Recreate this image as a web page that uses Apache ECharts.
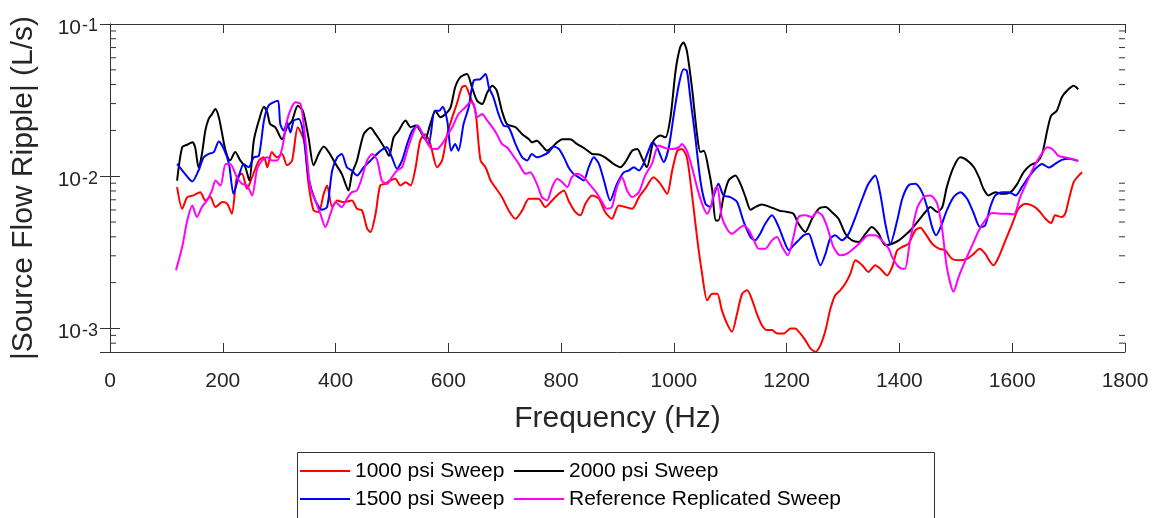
<!DOCTYPE html>
<html>
<head>
    <meta charset="utf-8"/>
    <title>Source Flow Ripple</title>
    <script src="https://cdn.jsdelivr.net/npm/echarts@6.0.0/dist/echarts.min.js"></script>
</head>
<body style="margin:0;background:#fff;">
<div id="main" style="width: 1167px;height:518px;"></div>
<script type="text/javascript">
    // [frequency Hz, |source flow ripple| L/s]
    var sweep1000 = [
        [119, 0.00848], [128, 0.00611], [137, 0.00729], [148, 0.00748], [160, 0.00786], [169, 0.00693], [178, 0.00729], [187, 0.00627],
        [199, 0.00676], [208, 0.00659], [216, 0.00567], [225, 0.00985], [234, 0.01036], [243, 0.00827], [252, 0.00985], [264, 0.0127],
        [273, 0.0133], [279, 0.01146], [287, 0.0144], [296, 0.0133], [305, 0.0140], [314, 0.0118], [323, 0.0127], [333, 0.0210],
        [344, 0.0171], [352, 0.00891], [361, 0.00596], [370, 0.00582], [379, 0.00766], [385, 0.00869], [394, 0.00627], [403, 0.00693],
        [414, 0.00676], [429, 0.00693], [438, 0.00611], [447, 0.00596], [456, 0.00452], [462, 0.00430], [471, 0.00567], [479, 0.00869],
        [488, 0.00891], [497, 0.00937], [506, 0.00961], [515, 0.00869], [524, 0.00914], [533, 0.00869], [542, 0.01146], [550, 0.0171],
        [559, 0.0189], [568, 0.0163], [580, 0.01146], [589, 0.0127], [598, 0.0189], [607, 0.0244], [615, 0.0298], [624, 0.0383],
        [630, 0.0393], [639, 0.0330], [648, 0.0269], [657, 0.0127], [666, 0.01146], [675, 0.00937], [683, 0.00848], [695, 0.00729],
        [707, 0.00596], [719, 0.00525], [731, 0.00596], [743, 0.00711], [760, 0.00711], [772, 0.00627], [784, 0.00693], [796, 0.00766],
        [805, 0.00806], [813, 0.00693], [825, 0.00582], [834, 0.00553], [843, 0.00659], [855, 0.00748], [867, 0.00711], [878, 0.00582],
        [890, 0.00525], [902, 0.00643], [914, 0.00627], [926, 0.00611], [938, 0.00729], [949, 0.00827], [964, 0.00985], [976, 0.00891],
        [988, 0.00766], [997, 0.0109], [1006, 0.0147], [1014, 0.0151], [1023, 0.0133], [1032, 0.00766], [1041, 0.00398], [1050, 0.00229],
        [1059, 0.00153], [1068, 0.00169], [1077, 0.00169], [1085, 0.00132], [1094, 0.00108], [1103, 0.000951], [1112, 0.00125], [1121, 0.00169],
        [1130, 0.00178], [1139, 0.00153], [1147, 0.00125], [1156, 0.00105], [1165, 0.000975], [1174, 0.000975], [1183, 0.000927], [1195, 0.000927],
        [1207, 0.00100], [1215, 0.00100], [1224, 0.000927], [1233, 0.000838], [1242, 0.000739], [1251, 0.000703], [1260, 0.000777], [1269, 0.000975],
        [1277, 0.00132], [1286, 0.00165], [1295, 0.00178], [1304, 0.00197], [1313, 0.00229], [1322, 0.00280], [1334, 0.00260], [1345, 0.00235],
        [1357, 0.00260], [1366, 0.00247], [1378, 0.00223], [1387, 0.00253], [1396, 0.00326], [1405, 0.00343], [1416, 0.00360], [1428, 0.00441],
        [1437, 0.00459], [1446, 0.00419], [1458, 0.00360], [1470, 0.00334], [1481, 0.00326], [1493, 0.00287], [1505, 0.00280], [1520, 0.00287],
        [1532, 0.00310], [1542, 0.00334], [1552, 0.00310], [1561, 0.00273], [1567, 0.00260], [1576, 0.00295], [1588, 0.00379], [1600, 0.00487],
        [1611, 0.00611], [1623, 0.00659], [1635, 0.00643], [1647, 0.00596], [1659, 0.00525], [1669, 0.00492], [1676, 0.00553], [1688, 0.00539],
        [1694, 0.00567], [1700, 0.00693], [1709, 0.00914], [1718, 0.0101], [1724, 0.0106]
    ];

    var sweep2000 = [
        [119, 0.00937], [128, 0.0155], [137, 0.0161], [146, 0.0167], [151, 0.0155], [157, 0.01146], [163, 0.0140], [169, 0.0199],
        [175, 0.0238], [181, 0.0256], [187, 0.0276], [193, 0.0244], [199, 0.0189], [205, 0.0147], [213, 0.0127], [222, 0.0144],
        [231, 0.0127], [240, 0.01146], [247, 0.00937], [255, 0.0171], [264, 0.0232], [273, 0.0286], [279, 0.0262], [284, 0.0220],
        [293, 0.0210], [305, 0.0175], [314, 0.0210], [323, 0.0232], [333, 0.0290], [342, 0.0269], [352, 0.0180], [361, 0.0118],
        [370, 0.0140], [379, 0.0157], [388, 0.0144], [400, 0.01205], [411, 0.01036], [423, 0.00806], [429, 0.01036], [438, 0.0127],
        [450, 0.0189], [462, 0.0208], [471, 0.0189], [479, 0.0171], [488, 0.0151], [495, 0.0136], [503, 0.0180], [512, 0.0199],
        [524, 0.0232], [533, 0.0210], [542, 0.0215], [550, 0.0199], [559, 0.0175], [568, 0.0220], [577, 0.0269], [586, 0.0244],
        [595, 0.0256], [604, 0.0283], [612, 0.0383], [621, 0.0446], [633, 0.0469], [642, 0.0383], [651, 0.0313], [660, 0.0298],
        [669, 0.0355], [678, 0.0393], [686, 0.0364], [695, 0.0269], [704, 0.0220], [719, 0.0210], [731, 0.0189], [743, 0.0175],
        [748, 0.0167], [757, 0.0171], [766, 0.0159], [775, 0.0147], [784, 0.0155], [793, 0.0167], [802, 0.0175], [816, 0.0175],
        [828, 0.0163], [843, 0.0151], [855, 0.0140], [867, 0.0139], [878, 0.0133], [893, 0.01205], [905, 0.01146], [914, 0.0124],
        [926, 0.0147], [935, 0.0151], [943, 0.0133], [952, 0.01146], [964, 0.0171], [976, 0.0185], [985, 0.0180], [994, 0.0244],
        [1003, 0.0493], [1011, 0.0701], [1017, 0.0756], [1023, 0.0666], [1032, 0.0383], [1041, 0.0189], [1047, 0.0144], [1053, 0.0147],
        [1062, 0.0109], [1068, 0.00806], [1074, 0.00512], [1079, 0.00512], [1088, 0.00729], [1097, 0.00937], [1109, 0.0101], [1118, 0.00891],
        [1127, 0.00729], [1136, 0.00602], [1144, 0.00627], [1156, 0.00653], [1171, 0.00627], [1186, 0.00596], [1201, 0.00582], [1212, 0.00567],
        [1221, 0.00487], [1233, 0.00430], [1245, 0.00525], [1257, 0.00611], [1269, 0.00627], [1280, 0.00582], [1292, 0.00525], [1304, 0.00419],
        [1316, 0.00379], [1328, 0.00370], [1340, 0.00419], [1351, 0.00463], [1363, 0.00419], [1375, 0.00352], [1387, 0.00360], [1399, 0.00379],
        [1410, 0.00409], [1422, 0.00452], [1434, 0.00512], [1446, 0.00582], [1455, 0.00627], [1467, 0.00582], [1476, 0.00627], [1484, 0.00848],
        [1496, 0.01146], [1508, 0.0133], [1520, 0.0127], [1532, 0.01146], [1541, 0.00985], [1549, 0.00827], [1558, 0.00748], [1570, 0.00786],
        [1582, 0.00766], [1597, 0.00786], [1609, 0.00891], [1620, 0.0106], [1632, 0.0118], [1644, 0.0124], [1653, 0.0140], [1662, 0.0199],
        [1669, 0.0250], [1679, 0.0269], [1688, 0.0330], [1697, 0.0364], [1709, 0.0393], [1717, 0.0373]
    ];

    var sweep1500 = [
        [119, 0.01205], [131, 0.0106], [146, 0.00923], [157, 0.0109], [166, 0.0133], [175, 0.0140], [184, 0.0144], [193, 0.0169],
        [202, 0.0151], [211, 0.01205], [219, 0.00766], [228, 0.00985], [237, 0.01205], [246, 0.01146], [255, 0.0133], [264, 0.0136],
        [273, 0.0232], [281, 0.0290], [290, 0.0306], [298, 0.0313], [302, 0.0220], [308, 0.0199], [314, 0.0226], [320, 0.0194],
        [326, 0.0232], [335, 0.0238], [344, 0.0180], [352, 0.00985], [364, 0.00693], [376, 0.00602], [385, 0.00627], [394, 0.0109],
        [403, 0.0133], [411, 0.0140], [420, 0.01146], [429, 0.0109], [438, 0.0101], [450, 0.01146], [465, 0.0130], [477, 0.0144],
        [491, 0.0155], [500, 0.0133], [509, 0.0112], [518, 0.0127], [527, 0.0163], [536, 0.0199], [545, 0.0215], [553, 0.0194],
        [565, 0.0163], [576, 0.0269], [584, 0.0269], [590, 0.0286], [598, 0.0232], [605, 0.0147], [612, 0.0163], [618, 0.0147],
        [627, 0.0220], [636, 0.0283], [645, 0.0424], [657, 0.0435], [666, 0.0469], [672, 0.0383], [680, 0.0330], [689, 0.0256],
        [698, 0.0215], [707, 0.0210], [719, 0.0163], [731, 0.0133], [740, 0.0127], [748, 0.0140], [757, 0.0133], [766, 0.0136],
        [778, 0.0144], [787, 0.0157], [796, 0.0151], [805, 0.0133], [813, 0.01146], [822, 0.01036], [831, 0.00985], [840, 0.00937],
        [849, 0.01146], [858, 0.0133], [867, 0.01205], [876, 0.00937], [887, 0.00693], [899, 0.00891], [911, 0.0106], [920, 0.0109],
        [929, 0.01146], [938, 0.0109], [946, 0.01205], [955, 0.0147], [962, 0.0167], [970, 0.0155], [982, 0.0124], [991, 0.0155],
        [1000, 0.0256], [1009, 0.0403], [1017, 0.0505], [1023, 0.0493], [1029, 0.0330], [1038, 0.0180], [1047, 0.00937], [1056, 0.00659],
        [1065, 0.00627], [1071, 0.0075], [1079, 0.00891], [1088, 0.00748], [1100, 0.00729], [1112, 0.00676], [1124, 0.00500], [1136, 0.00398],
        [1144, 0.00379], [1153, 0.00419], [1162, 0.00487], [1174, 0.00553], [1186, 0.00463], [1195, 0.00379], [1204, 0.00326], [1212, 0.00351],
        [1221, 0.00379], [1230, 0.00409], [1239, 0.00419], [1248, 0.00343], [1260, 0.00260], [1269, 0.00310], [1277, 0.00388], [1286, 0.00409],
        [1298, 0.00379], [1310, 0.00419], [1322, 0.00539], [1334, 0.00711], [1345, 0.00891], [1357, 0.0101], [1366, 0.00766], [1375, 0.00487],
        [1384, 0.00360], [1396, 0.00512], [1405, 0.00711], [1416, 0.00869], [1428, 0.00891], [1440, 0.00786], [1449, 0.00627], [1458, 0.00463],
        [1465, 0.00409], [1473, 0.00463], [1484, 0.00596], [1496, 0.00729], [1508, 0.00786], [1520, 0.00711], [1532, 0.00567], [1543, 0.00463],
        [1552, 0.00475], [1561, 0.00627], [1570, 0.00748], [1582, 0.00786], [1594, 0.00786], [1606, 0.00748], [1617, 0.00848], [1629, 0.00985],
        [1641, 0.0112], [1653, 0.01205], [1665, 0.0114], [1676, 0.01205], [1688, 0.0128], [1700, 0.0130], [1717, 0.0126]
    ];

    var sweepReference = [
        [117, 0.00241], [128, 0.00343], [137, 0.00512], [146, 0.00643], [154, 0.00539], [163, 0.00627], [172, 0.00693], [181, 0.00806],
        [187, 0.00937], [196, 0.00869], [205, 0.01205], [213, 0.01205], [225, 0.00985], [234, 0.00891], [243, 0.00869], [252, 0.00748],
        [261, 0.0112], [270, 0.0127], [279, 0.0133], [287, 0.0127], [296, 0.0127], [305, 0.0151], [314, 0.0232], [322, 0.0283],
        [329, 0.0306], [338, 0.0298], [346, 0.0180], [355, 0.00848], [364, 0.00693], [373, 0.00567], [382, 0.00463], [391, 0.00567],
        [400, 0.00676], [411, 0.00627], [420, 0.00711], [429, 0.00786], [438, 0.00806], [447, 0.00985], [456, 0.0127], [465, 0.0140],
        [474, 0.0127], [482, 0.00937], [491, 0.00891], [500, 0.00985], [509, 0.0109], [518, 0.01146], [527, 0.0147], [536, 0.0185],
        [545, 0.0215], [553, 0.0194], [562, 0.0167], [571, 0.0151], [580, 0.0151], [589, 0.0163], [598, 0.0185], [607, 0.0210],
        [618, 0.0256], [630, 0.0283], [639, 0.0306], [645, 0.0298], [651, 0.0244], [660, 0.0256], [669, 0.0232], [678, 0.0210],
        [686, 0.0189], [695, 0.0163], [704, 0.0155], [713, 0.0140], [725, 0.01205], [737, 0.01036], [745, 0.0106], [757, 0.00891],
        [766, 0.00729], [775, 0.00693], [784, 0.00848], [793, 0.00961], [802, 0.00914], [811, 0.00848], [819, 0.00985], [828, 0.01036],
        [840, 0.00985], [852, 0.00869], [864, 0.00766], [873, 0.00676], [881, 0.00611], [890, 0.00627], [899, 0.00848], [908, 0.00985],
        [917, 0.00806], [926, 0.00729], [938, 0.00786], [949, 0.0101], [961, 0.01205], [973, 0.0159], [985, 0.0153], [997, 0.0151],
        [1009, 0.0155], [1014, 0.0163], [1023, 0.0147], [1032, 0.01146], [1041, 0.00848], [1050, 0.00659], [1059, 0.00567], [1065, 0.00627],
        [1073, 0.00827], [1077, 0.00848], [1085, 0.00539], [1094, 0.00452], [1103, 0.00419], [1115, 0.00452], [1124, 0.00475], [1133, 0.00441],
        [1142, 0.00379], [1150, 0.00334], [1162, 0.00334], [1174, 0.00379], [1183, 0.00398], [1192, 0.00343], [1202, 0.00302], [1212, 0.00398],
        [1221, 0.00539], [1233, 0.00553], [1245, 0.00539], [1254, 0.00582], [1263, 0.00553], [1272, 0.00463], [1283, 0.00343], [1295, 0.00302],
        [1307, 0.00310], [1322, 0.00343], [1334, 0.00379], [1345, 0.00409], [1357, 0.00409], [1369, 0.00379], [1381, 0.00334], [1387, 0.00295],
        [1396, 0.00260], [1405, 0.00247], [1410, 0.00247], [1419, 0.00379], [1431, 0.00611], [1443, 0.00729], [1455, 0.00748], [1467, 0.00659],
        [1476, 0.00441], [1484, 0.00253], [1496, 0.00174], [1505, 0.00218], [1517, 0.00280], [1529, 0.00351], [1541, 0.00441], [1552, 0.00512],
        [1564, 0.00573], [1579, 0.00567], [1594, 0.00567], [1603, 0.00561], [1614, 0.00729], [1626, 0.00914], [1638, 0.01146], [1650, 0.0136],
        [1662, 0.0155], [1671, 0.0151], [1682, 0.0136], [1694, 0.0133], [1706, 0.0130], [1717, 0.0126]
    ];

    var seriesNames = ['1000 psi Sweep', '2000 psi Sweep', '1500 psi Sweep', 'Reference Replicated Sweep'];
    var seriesColors = ['#ff0000', '#000000', '#0000ff', '#ff00ff'];
    // minor log ticks (2..9 x 10^k) like the matlab axes
    var minorTicks = [0.0008, 0.0009, 0.002, 0.003, 0.004, 0.005, 0.006, 0.007, 0.008, 0.009,
        0.02, 0.03, 0.04, 0.05, 0.06, 0.07, 0.08, 0.09];

    var font = 'Liberation Sans, Arial, Helvetica, sans-serif';
    var boxColor = '#333333';
    var textColor = '#262626';

    var myChart = echarts.init(document.getElementById('main'));

    function lineSeries(name, data, color) {
        return {
            name: name,
            type: 'line',
            data: data,
            symbol: 'none',
            smooth: 0.25,
            lineStyle: {color: color, width: 2},
            itemStyle: {color: color},
            xAxisIndex: 0,
            yAxisIndex: 0
        };
    }

    var legendBase = {
        orient: 'vertical',
        top: 459,
        padding: 0,
        icon: 'rect',
        itemWidth: 50, itemHeight: 2, itemGap: 4,
        textStyle: {fontSize: 21, color: '#000', fontFamily: font, lineHeight: 24}
    };

    var option = {
        animation: false,
        backgroundColor: '#ffffff',
        textStyle: {fontFamily: font},
        grid: {left: 110, right: 42, top: 24, bottom: 166, containLabel: false},
        xAxis: [{
            type: 'value',
            min: 0, max: 1800, interval: 200,
            position: 'bottom',
            name: 'Frequency (Hz)',
            nameLocation: 'middle',
            nameGap: 52,
            nameTextStyle: {fontSize: 30, color: textColor, fontFamily: font},
            axisLine: {show: true, lineStyle: {color: boxColor, width: 1}},
            axisTick: {show: true, inside: true, length: 9, lineStyle: {color: boxColor}},
            axisLabel: {
                fontSize: 21, color: textColor, fontFamily: font, margin: 19,
                formatter: function (v) { return String(v); }
            },
            splitLine: {show: false}
        }, {
            type: 'value',
            min: 0, max: 1800, interval: 200,
            position: 'top',
            axisLine: {show: true, lineStyle: {color: boxColor, width: 1}},
            axisTick: {show: true, inside: true, length: 9, lineStyle: {color: boxColor}},
            axisLabel: {show: false},
            splitLine: {show: false}
        }],
        yAxis: [{
            type: 'log',
            logBase: 10,
            min: 0.0007, max: 0.1,
            position: 'left',
            name: '|Source Flow Ripple| (L/s)',
            nameLocation: 'middle',
            nameRotate: 90,
            nameGap: 71,
            nameTextStyle: {fontSize: 30, color: textColor, fontFamily: font},
            axisLine: {show: true, lineStyle: {color: boxColor, width: 1}},
            axisTick: {show: true, inside: true, length: 10, lineStyle: {color: boxColor}},
            axisLabel: {
                margin: 12,
                padding: [8, 0, 0, 0],
                formatter: function (v) {
                    var lg = Math.log10(v);
                    var e = Math.round(lg);
                    if (Math.abs(lg - e) > 1e-6) return '';
                    return '{b|10}{s|' + e + '}';
                },
                rich: {
                    b: {fontSize: 21, color: textColor, fontFamily: font, lineHeight: 21, verticalAlign: 'bottom', padding: [9, 0, 0, 0]},
                    s: {fontSize: 18, color: textColor, fontFamily: font, lineHeight: 18, verticalAlign: 'top', padding: [0, 0, 0, 1]}
                }
            },
            splitLine: {show: false}
        }, {
            type: 'log',
            logBase: 10,
            min: 0.0007, max: 0.1,
            position: 'right',
            axisLine: {show: true, lineStyle: {color: boxColor, width: 1}},
            axisTick: {show: true, inside: true, length: 10, lineStyle: {color: boxColor}},
            axisLabel: {show: false},
            splitLine: {show: false}
        }],
        legend: [
            Object.assign({data: [seriesNames[0], seriesNames[2]], left: 300}, legendBase),
            Object.assign({data: [seriesNames[1], seriesNames[3]], left: 514}, legendBase)
        ],
        graphic: [{
            type: 'rect',
            shape: {x: 297.5, y: 452.5, width: 637, height: 90},
            style: {fill: 'none', stroke: boxColor, lineWidth: 1},
            silent: true
        }],
        series: [
            lineSeries(seriesNames[0], sweep1000, seriesColors[0]),
            lineSeries(seriesNames[1], sweep2000, seriesColors[1]),
            lineSeries(seriesNames[2], sweep1500, seriesColors[2]),
            lineSeries(seriesNames[3], sweepReference, seriesColors[3]),
            {
                type: 'custom',
                silent: true,
                xAxisIndex: 0,
                yAxisIndex: 0,
                data: minorTicks.map(function (v) { return [0, v]; }),
                renderItem: function (params, api) {
                    var v = api.value(1);
                    var l = api.coord([0, v]);
                    var r = api.coord([1800, v]);
                    return {
                        type: 'group',
                        children: [{
                            type: 'line',
                            shape: {x1: l[0], y1: l[1], x2: l[0] + 6, y2: l[1]},
                            style: {stroke: boxColor, lineWidth: 1}
                        }, {
                            type: 'line',
                            shape: {x1: r[0] - 6, y1: r[1], x2: r[0], y2: r[1]},
                            style: {stroke: boxColor, lineWidth: 1}
                        }]
                    };
                }
            }
        ]
    };

    myChart.setOption(option);
</script>
</body>
</html>
